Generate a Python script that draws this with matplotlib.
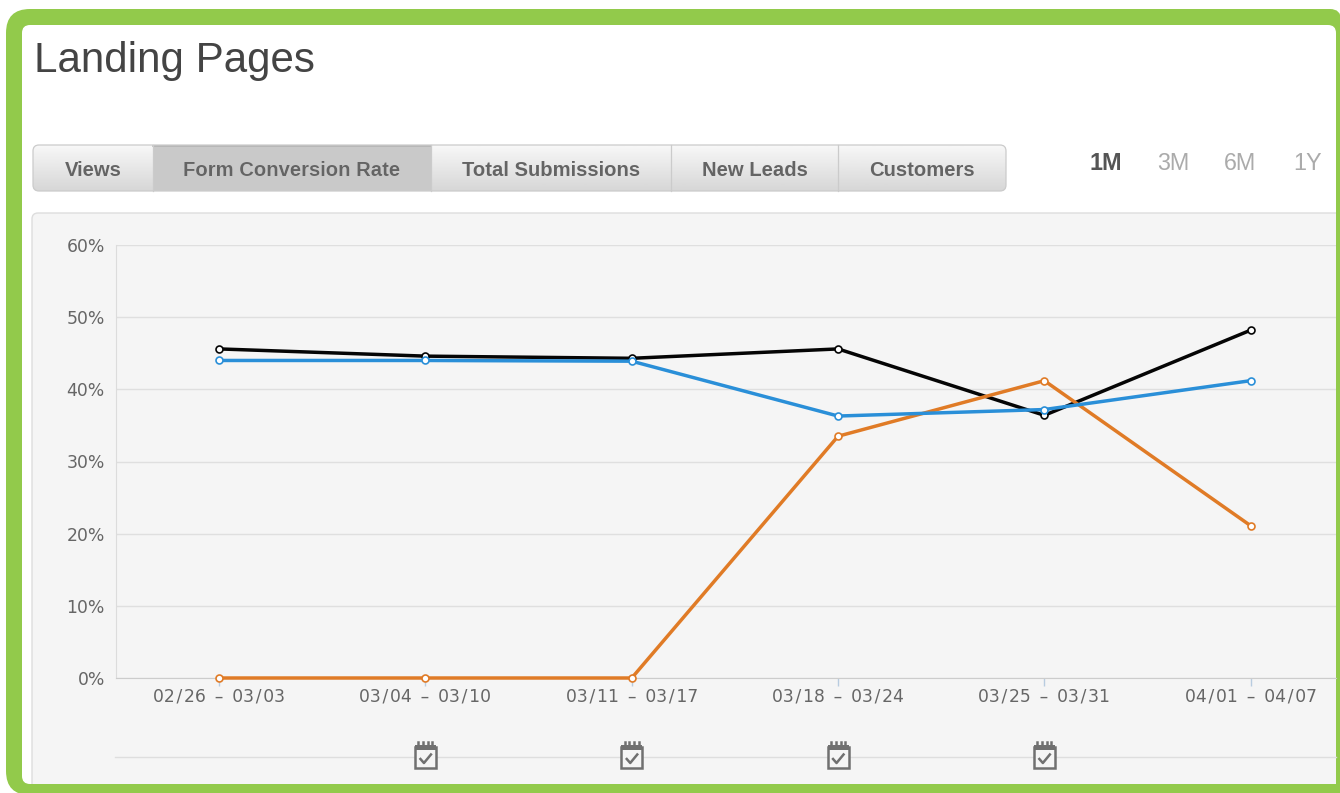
import numpy as np
import matplotlib
matplotlib.use('Agg')
import matplotlib.pyplot as plt
from matplotlib.patches import FancyBboxPatch, Rectangle

W, H = 1340, 793

weeks = ['02/26 – 03/03', '03/04 – 03/10', '03/11 – 03/17',
         '03/18 – 03/24', '03/25 – 03/31', '04/01 – 04/07']
black_vals = [45.6, 44.6, 44.3, 45.6, 36.4, 48.2]
blue_vals = [44.0, 44.0, 43.9, 36.3, 37.2, 41.2]
orange_vals = [0, 0, 0, 33.5, 41.2, 21.1]
y_ticks = [0, 10, 20, 30, 40, 50, 60]
event_weeks = [1, 2, 3, 4]

tabs = ['Views', 'Form Conversion Rate', 'Total Submissions', 'New Leads', 'Customers']
tab_edges = [33, 153, 431, 671, 838, 1006]
active_tab = 1
ranges = ['1M', '3M', '6M', '1Y']
range_x = [1106, 1173, 1240, 1308]

GREEN = '#92ca4b'
PANEL = '#f5f5f5'
SANS = 'Liberation Sans'

fig = plt.figure(figsize=(W / 100, H / 100), dpi=100, facecolor='white')

# page furniture, in pixel coordinates
bg = fig.add_axes([0, 0, 1, 1])
bg.set_xlim(0, W)
bg.set_ylim(H, 0)
bg.axis('off')


def rbox(x0, y0, x1, y1, r, **kw):
    p = FancyBboxPatch((x0 + r, y0 + r), x1 - x0 - 2 * r, y1 - y0 - 2 * r,
                       boxstyle='round,pad=%g,rounding_size=%g' % (r, r), **kw)
    bg.add_patch(p)
    return p


# green frame: big corners on the left, a tight one top right
rbox(6, 9, 300, 795, 24, fc=GREEN, ec='none', zorder=1)
rbox(200, 9, 1341, 810, 11, fc=GREEN, ec='none', zorder=1)
rbox(22, 25, 1336, 784, 8, fc='white', ec='none', zorder=2)
rbox(32, 213, 1400, 800, 6, fc=PANEL, ec='#dddddd', lw=1.0, zorder=3)
# panel runs under the bottom green band
bg.add_patch(Rectangle((28, 783.5), W, 12, fc=GREEN, ec='none', zorder=4))
bg.add_patch(Rectangle((1336, 25), 6, 770, fc=GREEN, ec='none', zorder=4))

bg.text(34, 61, 'Landing Pages', fontsize=30.3, color='#444444', family=SANS,
        va='center', ha='left', zorder=5)

# button group
grad = np.linspace(0.97, 0.84, 64).reshape(-1, 1)
clip = rbox(tab_edges[0], 145, tab_edges[-1], 191, 6, fc='none', ec='none', zorder=5)
img = bg.imshow(grad, extent=(tab_edges[0], tab_edges[-1], 191, 145), cmap='gray',
                vmin=0, vmax=1, aspect='auto', zorder=5)
img.set_clip_path(clip)
bg.set_xlim(0, W)
bg.set_ylim(H, 0)
bg.add_patch(Rectangle((tab_edges[active_tab], 145),
                       tab_edges[active_tab + 1] - tab_edges[active_tab], 46,
                       fc='#c9c9c9', ec='none', zorder=6))
bg.plot([tab_edges[active_tab], tab_edges[active_tab + 1]], [146, 146], color='#b4b4b4', lw=1.2, zorder=6)
rbox(tab_edges[0], 145, tab_edges[-1], 191, 6, fc='none', ec='#cbcbcb', lw=0.9, zorder=7)
for e in tab_edges[1:-1]:
    bg.plot([e, e], [145, 191], color='#cbcbcb', lw=0.9, zorder=7)
for i, t in enumerate(tabs):
    cx = (tab_edges[i] + tab_edges[i + 1]) / 2
    bg.text(cx, 171, t, fontsize=14.6, fontweight='bold', color='#f4f4f4', family=SANS,
            ha='center', va='center', zorder=8)
    bg.text(cx, 170, t, fontsize=14.6, fontweight='bold', color='#646464', family=SANS,
            ha='center', va='center', zorder=9)

for i, (t, x) in enumerate(zip(ranges, range_x)):
    bg.text(x, 164, t, fontsize=16.8, family=SANS, ha='center', va='center', zorder=8,
            fontweight='bold' if i == 0 else 'normal',
            color='#555555' if i == 0 else '#ababab')

# event row line
bg.plot([115, 1336], [757, 757], color='#dedede', lw=1.0, zorder=5)

# chart, axes placed to the pixel
band = 206.3
left, right, top, bottom = 116, 1336, 245, 678
ax = fig.add_axes([left / W, 1 - bottom / H, (right - left) / W, (bottom - top) / H])
ax.patch.set_alpha(0)
ax.set_zorder(5)
ax.set_xlim(-0.5, -0.5 + (right - left) / band)
ax.set_ylim(0, 60)
x = np.arange(len(weeks))

# the labels in the reference are spaced out wider than DejaVu sets them
wide = [w.replace('/', '\u200a/\u200a').replace(' – ', '\u2009 – \u2009') for w in weeks]
ax.set_yticks(y_ticks)
ax.set_yticklabels(['%d%%' % v for v in y_ticks], fontsize=12.4, color='#666666', family='DejaVu Sans')
ax.set_xticks(x)
ax.set_xticklabels(wide, fontsize=12.3, color='#666666', family='DejaVu Sans')
ax.tick_params(axis='y', length=0, pad=8)
ax.tick_params(axis='x', length=6, width=1, color='#b8cce0', pad=0.5)
ax.grid(axis='y', color='#dfdfdf', lw=1.0)
ax.set_axisbelow(True)
for s in ['top', 'right']:
    ax.spines[s].set_visible(False)
ax.spines['left'].set_color('#dcdcdc')
ax.spines['bottom'].set_color('#cccccc')

series = [(black_vals, '#050505'), (orange_vals, '#e07b26'), (blue_vals, '#2a8fd8')]
for vals, col in series:
    ax.plot(x, vals, color=col, lw=2.5, marker='o', ms=5, mfc='white', mec=col, mew=1.2,
            clip_on=False, zorder=4)

# calendar icons under the weeks that have events
fig.canvas.draw()
for w in event_weeks:
    cx = ax.transData.transform((w, 0))[0]
    c = '#707070'
    bg.add_patch(Rectangle((cx - 10.5, 746.5), 21, 21, fc=PANEL, ec=c, lw=1.8, zorder=6))
    bg.add_patch(Rectangle((cx - 10.5, 745), 21, 5, fc=c, ec='none', zorder=7))
    for dx in [-7, -2.5, 2.5, 7]:
        bg.plot([cx + dx, cx + dx], [741.5, 747], color=c, lw=1.8, zorder=7)
    bg.plot([cx - 5, cx - 1.5, cx + 5.5], [759, 763, 754.5], color=c, lw=1.8, zorder=7)

fig.savefig('out.png', dpi=100, facecolor='white')
